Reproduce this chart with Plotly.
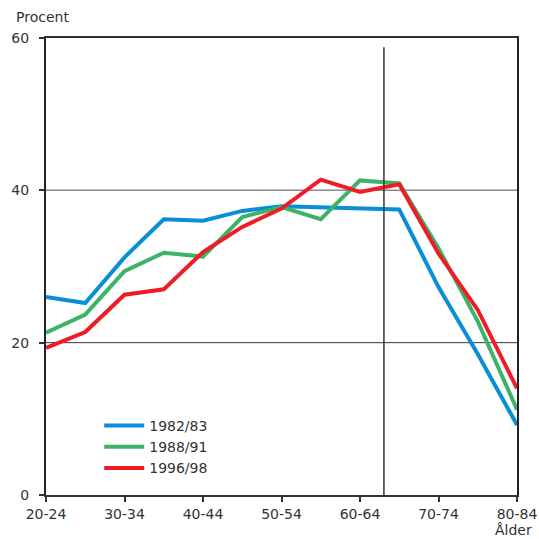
import plotly.graph_objects as go

categories = ["20-24", "25-29", "30-34", "35-39", "40-44", "45-49", "50-54",
              "55-59", "60-64", "65-69", "70-74", "75-79", "80-84"]
tick_labels = ["20-24", "30-34", "40-44", "50-54", "60-64", "70-74", "80-84"]
series_names = ["1982/83", "1988/91", "1996/98"]
values_1982 = [26.0, 25.2, 31.2, 36.2, 36.0, 37.3, 37.9, 37.8, 37.7, 37.5, 27.3, 18.5, 9.2]
values_1988 = [21.3, 23.7, 29.4, 31.8, 31.3, 36.5, 37.8, 36.2, 41.3, 40.9, 32.4, 22.8, 11.2]
values_1996 = [19.3, 21.4, 26.3, 27.0, 31.9, 35.2, 37.6, 41.4, 39.8, 40.8, 31.7, 24.3, 14.0]
colors = ["#0a8fd6", "#3db36a", "#ee1c25"]
y_ticks = [0, 20, 40, 60]

x_idx = list(range(len(categories)))
fig = go.Figure()
for name, vals, col in zip(series_names, [values_1982, values_1988, values_1996], colors):
    fig.add_trace(go.Scatter(x=x_idx, y=vals, mode="lines", name=name,
                             line=dict(color=col, width=4),
                             hovertext=categories))

# horizontal reference lines
fig.add_shape(type="line", xref="paper", yref="y", x0=0, x1=1, y0=40, y1=40,
              line=dict(color="#8a8a8a", width=1.5), layer="below")
fig.add_shape(type="line", xref="paper", yref="y", x0=0, x1=1, y0=20, y1=20,
              line=dict(color="#333333", width=1), layer="below")
# vertical marker line
fig.add_shape(type="line", xref="x", yref="y", x0=8.61, x1=8.61, y0=0, y1=58.8,
              line=dict(color="#333333", width=1.5))

font = dict(family="DejaVu Sans, Liberation Sans, Arial, sans-serif", size=14, color="#333333")

fig.update_layout(
    width=539, height=539,
    margin=dict(l=46, r=22, t=38, b=44),
    plot_bgcolor="white", paper_bgcolor="white",
    font=font,
    showlegend=True,
    legend=dict(x=0.113, y=0.186, xanchor="left", yanchor="top",
                bgcolor="rgba(0,0,0,0)", font=font,
                tracegroupgap=0, itemwidth=40),
    xaxis=dict(range=[0, 12], tickmode="array",
               tickvals=[categories.index(t) for t in tick_labels],
               ticktext=tick_labels, showgrid=False, zeroline=False,
               showline=True, linecolor="#333333", linewidth=1.5, mirror=True,
               ticks="outside", ticklen=5, tickcolor="#333333", tickwidth=1.5,
               tickfont=font, automargin=False),
    yaxis=dict(range=[0, 60], tickmode="array", tickvals=y_ticks,
               showgrid=False, zeroline=False,
               showline=True, linecolor="#222222", linewidth=2, mirror=True,
               ticks="outside", ticklen=5, tickcolor="#333333", tickwidth=1.5,
               tickfont=font, ticklabelstandoff=7, automargin=False),
    annotations=[
        dict(text="Procent", xref="paper", yref="paper", x=-0.068, y=1.046,
             xanchor="left", yanchor="middle", showarrow=False, font=font),
        dict(text="Ålder", xref="paper", yref="paper", x=1.036, y=-0.076,
             xanchor="right", yanchor="middle", showarrow=False, font=font),
    ],
)

fig.write_html(
    "out.html",
    config={"displayModeBar": False},
    post_script="document.body.style.margin='0';document.body.style.overflow='hidden';",
)
